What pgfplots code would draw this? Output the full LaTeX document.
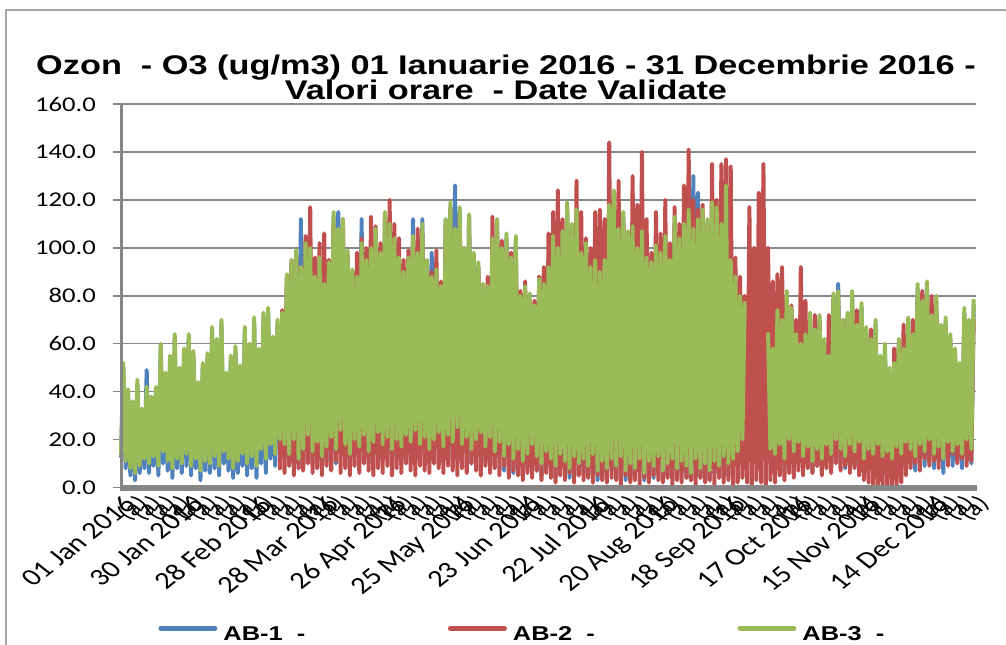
\documentclass[border=0pt]{standalone}
\usepackage{pgfplots}
\pgfplotsset{compat=1.18}
\usepackage{pgfplotstable}
\usepackage{fontspec}
\setmainfont{Liberation Sans}
\newfontfamily\carlito{Carlito}
\definecolor{cBlue}{HTML}{4F81BD}
\definecolor{cRed}{HTML}{C0504D}
\definecolor{cGreen}{HTML}{9BBB59}
\definecolor{cAxis}{HTML}{868686}
\definecolor{cFrame}{HTML}{A6A6A6}
\newcommand{\sx}[1]{\scalebox{1.27}[1]{#1}}

% AB-1, one value per day from 01 Jan (day 0)
\pgfplotstableread[header=false,row sep=\\]{
13\\ 50\\ 8\\ 40\\ 5\\ 34\\ 3\\ 43\\ 6\\ 31\\
8\\ 49\\ 6\\ 36\\ 9\\ 40\\ 5\\ 58\\ 10\\ 46\\
7\\ 53\\ 4\\ 62\\ 8\\ 48\\ 6\\ 56\\ 9\\ 62\\
5\\ 55\\ 8\\ 42\\ 3\\ 50\\ 7\\ 54\\ 6\\ 65\\
8\\ 60\\ 5\\ 68\\ 10\\ 46\\ 7\\ 53\\ 4\\ 57\\
6\\ 49\\ 9\\ 65\\ 5\\ 58\\ 8\\ 69\\ 4\\ 56\\
10\\ 71\\ 6\\ 73\\ 12\\ 61\\ 9\\ 68\\ 14\\ 71\\
12\\ 87\\ 9\\ 93\\ 14\\ 97\\ 8\\ 112\\ 10\\ 100\\
15\\ 98\\ 10\\ 86\\ 13\\ 94\\ 8\\ 83\\ 11\\ 92\\
14\\ 113\\ 10\\ 115\\ 17\\ 110\\ 12\\ 97\\ 9\\ 89\\
13\\ 86\\ 11\\ 112\\ 15\\ 93\\ 10\\ 98\\ 13\\ 106\\
16\\ 96\\ 12\\ 113\\ 14\\ 108\\ 10\\ 102\\ 13\\ 94\\
11\\ 88\\ 15\\ 94\\ 12\\ 112\\ 17\\ 96\\ 12\\ 112\\
14\\ 93\\ 10\\ 98\\ 13\\ 89\\ 16\\ 82\\ 11\\ 112\\
15\\ 117\\ 12\\ 126\\ 18\\ 115\\ 11\\ 98\\ 14\\ 112\\
10\\ 96\\ 13\\ 92\\ 16\\ 83\\ 11\\ 82\\ 14\\ 102\\
9\\ 110\\ 12\\ 98\\ 7\\ 104\\ 11\\ 94\\ 6\\ 103\\
10\\ 78\\ 6\\ 82\\ 8\\ 79\\ 12\\ 74\\ 7\\ 85\\
5\\ 83\\ 9\\ 90\\ 6\\ 103\\ 4\\ 98\\ 8\\ 105\\
6\\ 117\\ 4\\ 108\\ 7\\ 114\\ 5\\ 96\\ 6\\ 100\\
4\\ 90\\ 8\\ 93\\ 3\\ 88\\ 6\\ 93\\ 4\\ 116\\
7\\ 122\\ 4\\ 106\\ 8\\ 113\\ 3\\ 105\\ 5\\ 107\\
4\\ 98\\ 7\\ 105\\ 3\\ 94\\ 6\\ 92\\ 4\\ 99\\
8\\ 96\\ 3\\ 103\\ 5\\ 93\\ 7\\ 111\\ 4\\ 102\\
6\\ 108\\ 4\\ 114\\ 3\\ 130\\ 7\\ 123\\ 4\\ 114\\
5\\ 110\\ 3\\ 117\\ 6\\ 115\\ 4\\ 108\\ 7\\ 124\\
5\\ 93\\ 6\\ 86\\ 9\\ 73\\ 12\\ 75\\ nan\\ nan\\
nan\\ nan\\ nan\\ nan\\ nan\\ nan\\ nan\\ 62\\ 10\\ 56\\
8\\ 72\\ 11\\ 68\\ 7\\ 80\\ 13\\ 73\\ 9\\ 62\\
12\\ 58\\ 8\\ 62\\ 10\\ 71\\ 6\\ 64\\ 9\\ 70\\
7\\ 60\\ 11\\ 53\\ 8\\ 79\\ 13\\ 85\\ 10\\ 68\\
8\\ 71\\ 12\\ 80\\ 9\\ 66\\ 12\\ 75\\ 7\\ 65\\
10\\ 60\\ 8\\ 68\\ 12\\ 53\\ 7\\ 58\\ 9\\ 48\\
7\\ 50\\ 11\\ 60\\ 8\\ 56\\ 12\\ 69\\ 10\\ 62\\
7\\ 83\\ 12\\ 76\\ 9\\ 84\\ 13\\ 70\\ 8\\ 78\\
11\\ 66\\ 6\\ 69\\ 12\\ 62\\ 9\\ 56\\ 11\\ 50\\
8\\ 73\\ 13\\ 68\\ 10\\ 76\\
}\tblBlue

% AB-2, from day 68
\pgfplotstableread[header=false,row sep=\\]{
8\\ 74\\
6\\ 88\\ 9\\ 95\\ 5\\ 98\\ 8\\ 92\\ 7\\ 105\\
10\\ 117\\ 6\\ 96\\ 8\\ 102\\ 5\\ 106\\ 9\\ 95\\
7\\ 110\\ 11\\ 104\\ 6\\ 112\\ 8\\ 96\\ 5\\ 90\\
9\\ 98\\ 6\\ 104\\ 10\\ 100\\ 7\\ 113\\ 5\\ 109\\
8\\ 102\\ 6\\ 112\\ 9\\ 120\\ 5\\ 110\\ 8\\ 104\\
6\\ 95\\ 10\\ 99\\ 7\\ 103\\ 5\\ 108\\ 9\\ 106\\
7\\ 93\\ 6\\ 90\\ 10\\ 99\\ 8\\ 86\\ 6\\ 110\\
9\\ 116\\ 7\\ 105\\ 5\\ 113\\ 8\\ 100\\ 6\\ 113\\
10\\ 96\\ 7\\ 92\\ 5\\ 84\\ 9\\ 88\\ 6\\ 113\\
8\\ 108\\ 5\\ 103\\ 9\\ 100\\ 4\\ 98\\ 7\\ 102\\
5\\ 82\\ 3\\ 86\\ 6\\ 80\\ 4\\ 78\\ 7\\ 88\\
3\\ 92\\ 6\\ 106\\ 4\\ 115\\ 2\\ 124\\ 5\\ 112\\
3\\ 110\\ 6\\ 108\\ 2\\ 128\\ 5\\ 115\\ 3\\ 104\\
4\\ 100\\ 2\\ 115\\ 5\\ 116\\ 3\\ 112\\ 2\\ 144\\
4\\ 120\\ 3\\ 128\\ 1\\ 110\\ 5\\ 100\\ 2\\ 130\\
3\\ 118\\ 1\\ 140\\ 4\\ 112\\ 2\\ 98\\ 5\\ 115\\
3\\ 106\\ 2\\ 120\\ 4\\ 102\\ 1\\ 117\\ 3\\ 110\\
2\\ 126\\ 4\\ 141\\ 3\\ 120\\ 1\\ 116\\ 4\\ 118\\
2\\ 110\\ 3\\ 135\\ 1\\ 120\\ 4\\ 135\\ 2\\ 137\\
3\\ 134\\ 1\\ 96\\ 2\\ 88\\ 4\\ 80\\ 2\\ 117\\
1\\ 100\\ 3\\ 123\\ 2\\ 135\\ 1\\ 100\\ 3\\ 86\\
2\\ 89\\ 5\\ 92\\ 3\\ 80\\ 6\\ 76\\ 4\\ 70\\
7\\ 92\\ 5\\ 78\\ 8\\ 65\\ 6\\ 72\\ 9\\ 68\\
5\\ 60\\ 8\\ 72\\ 6\\ 78\\ 10\\ 80\\ 7\\ 70\\
9\\ 71\\ 6\\ 76\\ 8\\ 74\\ 5\\ 70\\ 3\\ 62\\
2\\ 66\\ 1\\ 58\\ 0\\ 52\\ 1\\ 55\\ 0\\ 45\\
1\\ 58\\ 0\\ 60\\ 2\\ 68\\ 5\\ 62\\ 8\\ 70\\
10\\ 78\\ 7\\ 82\\ 12\\ 80\\ 9\\ 80\\ 11\\ 74\\
8\\ 66\\ 12\\ 68\\ 9\\ 60\\ 14\\ 55\\ 10\\ 50\\
12\\ 72\\ 9\\ 66\\ 11\\ 70\\
}\tblRed

% AB-3, from day 0
\pgfplotstableread[header=false,row sep=\\]{
14\\ 52\\ 11\\ 41\\ 8\\ 36\\ 6\\ 45\\ 9\\ 33\\
12\\ 42\\ 10\\ 38\\ 13\\ 42\\ 9\\ 60\\ 15\\ 48\\
11\\ 55\\ 8\\ 64\\ 12\\ 50\\ 10\\ 58\\ 14\\ 64\\
9\\ 57\\ 12\\ 44\\ 7\\ 52\\ 11\\ 56\\ 10\\ 67\\
13\\ 62\\ 9\\ 70\\ 15\\ 48\\ 12\\ 55\\ 8\\ 59\\
11\\ 51\\ 14\\ 67\\ 10\\ 60\\ 13\\ 71\\ 9\\ 58\\
16\\ 73\\ 12\\ 75\\ 18\\ 63\\ 14\\ 70\\ 20\\ 73\\
18\\ 89\\ 14\\ 95\\ 20\\ 99\\ 12\\ 92\\ 16\\ 102\\
22\\ 100\\ 15\\ 88\\ 19\\ 96\\ 13\\ 85\\ 17\\ 94\\
21\\ 115\\ 16\\ 108\\ 24\\ 112\\ 18\\ 99\\ 14\\ 91\\
20\\ 88\\ 17\\ 102\\ 22\\ 95\\ 15\\ 100\\ 19\\ 108\\
23\\ 98\\ 18\\ 115\\ 21\\ 110\\ 16\\ 104\\ 20\\ 96\\
17\\ 90\\ 22\\ 96\\ 19\\ 105\\ 24\\ 98\\ 18\\ 110\\
21\\ 95\\ 16\\ 88\\ 20\\ 91\\ 23\\ 84\\ 17\\ 112\\
22\\ 119\\ 19\\ 108\\ 25\\ 117\\ 18\\ 100\\ 21\\ 114\\
16\\ 98\\ 20\\ 94\\ 23\\ 85\\ 17\\ 84\\ 21\\ 104\\
15\\ 112\\ 19\\ 100\\ 13\\ 106\\ 18\\ 96\\ 12\\ 105\\
16\\ 80\\ 11\\ 84\\ 14\\ 81\\ 18\\ 76\\ 13\\ 87\\
10\\ 85\\ 15\\ 92\\ 12\\ 105\\ 9\\ 100\\ 14\\ 107\\
11\\ 119\\ 8\\ 110\\ 13\\ 116\\ 10\\ 98\\ 12\\ 102\\
9\\ 92\\ 14\\ 95\\ 7\\ 90\\ 11\\ 95\\ 8\\ 118\\
12\\ 124\\ 9\\ 108\\ 13\\ 115\\ 7\\ 107\\ 10\\ 109\\
8\\ 100\\ 12\\ 107\\ 6\\ 96\\ 11\\ 94\\ 9\\ 101\\
13\\ 98\\ 7\\ 105\\ 10\\ 95\\ 12\\ 113\\ 8\\ 104\\
11\\ 110\\ 9\\ 116\\ 6\\ 108\\ 12\\ 112\\ 8\\ 116\\
10\\ 112\\ 7\\ 119\\ 11\\ 117\\ 9\\ 110\\ 13\\ 126\\
10\\ 95\\ 12\\ 88\\ 15\\ 80\\ 20\\ 77\\ nan\\ nan\\
nan\\ nan\\ nan\\ nan\\ nan\\ nan\\ nan\\ 64\\ 16\\ 58\\
14\\ 74\\ 18\\ 70\\ 12\\ 82\\ 20\\ 75\\ 15\\ 64\\
19\\ 60\\ 13\\ 64\\ 17\\ 73\\ 11\\ 66\\ 16\\ 72\\
12\\ 62\\ 18\\ 55\\ 14\\ 81\\ 20\\ 82\\ 16\\ 70\\
13\\ 73\\ 18\\ 82\\ 15\\ 68\\ 19\\ 77\\ 12\\ 67\\
16\\ 62\\ 14\\ 70\\ 18\\ 55\\ 13\\ 60\\ 15\\ 50\\
12\\ 52\\ 17\\ 62\\ 14\\ 58\\ 19\\ 71\\ 16\\ 64\\
13\\ 85\\ 18\\ 78\\ 15\\ 86\\ 20\\ 72\\ 14\\ 80\\
17\\ 68\\ 12\\ 71\\ 19\\ 64\\ 15\\ 58\\ 18\\ 52\\
14\\ 75\\ 20\\ 70\\ 16\\ 78\\
}\tblGreen

\begin{document}
\begin{tikzpicture}
\useasboundingbox (0pt,0pt) rectangle (503pt,322pt);
\draw[cFrame, line width=1pt] (3pt,-10pt) -- (3pt,317pt) -- (520pt,317pt);
\node[anchor=base, inner sep=0pt, font=\bfseries\fontsize{13.5}{15}\selectfont] at (253pt,284.5pt)
  {\sx{Ozon\ \ - O3 (ug/m3) 01 Ianuarie 2016 - 31 Decembrie 2016 -}};
\node[anchor=base, inner sep=0pt, font=\bfseries\fontsize{13.5}{15}\selectfont] at (253pt,272.5pt)
  {\sx{Valori orare\ \ - Date Validate}};
\begin{axis}[
  at={(60.5pt,78.25pt)}, anchor=south west,
  scale only axis, width=427.5pt, height=191.75pt,
  xmin=0, xmax=366, ymin=0, ymax=160,
  clip=false, unbounded coords=jump,
  axis x line*=bottom, axis y line*=left,
  axis line style={draw=none},
  ytick={0,20,...,160},
  yticklabels={\sx{0.0},\sx{20.0},\sx{40.0},\sx{60.0},\sx{80.0},\sx{100.0},\sx{120.0},\sx{140.0},\sx{160.0}},
  y tick label style={font=\carlito\fontsize{10.5}{12}\selectfont, anchor=east, xshift=-5pt},
  tick align=outside, major tick length=4pt,
  ytick style={cAxis, line width=0.75pt},
  xtick={0,29,...,348},
  xticklabels={01 Jan 2016,30 Jan 2016,28 Feb 2016,28 Mar 2016,26 Apr 2016,25 May 2016,23 Jun 2016,22 Jul 2016,20 Aug 2016,18 Sep 2016,17 Oct 2016,15 Nov 2016,14 Dec 2016},
  xtick style={draw=none},
  x tick label style={font=\carlito\fontsize{12}{14}\selectfont, xscale=1.27, rotate=45, anchor=north east, inner sep=1pt, xshift=2pt, yshift=1pt},
  ymajorgrids, grid style={cAxis, line width=0.75pt},
  legend columns=3,
  legend style={draw=none, fill=none, at={(axis description cs:0.0433,-0.3846)}, anchor=west,
    inner sep=0pt, nodes={inner sep=0pt},
    /tikz/every odd column/.style={column sep=3pt},
    font=\bfseries\fontsize{10}{12}\selectfont},
  legend image code/.code={\draw[#1, line width=2.5pt, line cap=round] (1.25pt,3.5pt) -- (28.25pt,3.5pt);},
]
\addplot[cBlue, line width=2pt, line join=round, line cap=round, no marks]
  table[x expr=\coordindex, y index=0] {\tblBlue};
\addlegendentry{\makebox[112.25pt][l]{\sx{AB-1\ \ -}}}
\addplot[cRed, line width=2pt, line join=round, line cap=round, no marks]
  table[x expr=\coordindex+68, y index=0] {\tblRed};
\addlegendentry{\makebox[112.25pt][l]{\sx{AB-2\ \ -}}}
\addplot[cGreen, line width=2pt, line join=round, line cap=round, no marks]
  table[x expr=\coordindex, y index=0] {\tblGreen};
\addlegendentry{\makebox[112.25pt][l]{\sx{AB-3\ \ -}}}
\draw[cAxis, line width=1.5pt] (axis cs:0,-1) -- (axis cs:0,160);
\draw[cAxis, line width=3pt] (axis cs:-0.3,0) -- (axis cs:366.3,0);
\end{axis}
\foreach \d [count=\i] in {6,12,...,366} {
  \node[font=\carlito\fontsize{11}{12}\selectfont, xscale=1.27, rotate=45, anchor=north east, inner sep=0pt]
    at ({60.5pt+1.168pt*\d},75.5pt) {\ifodd\i 1(a)\else 2(a)\fi};
}
\end{tikzpicture}
\end{document}
